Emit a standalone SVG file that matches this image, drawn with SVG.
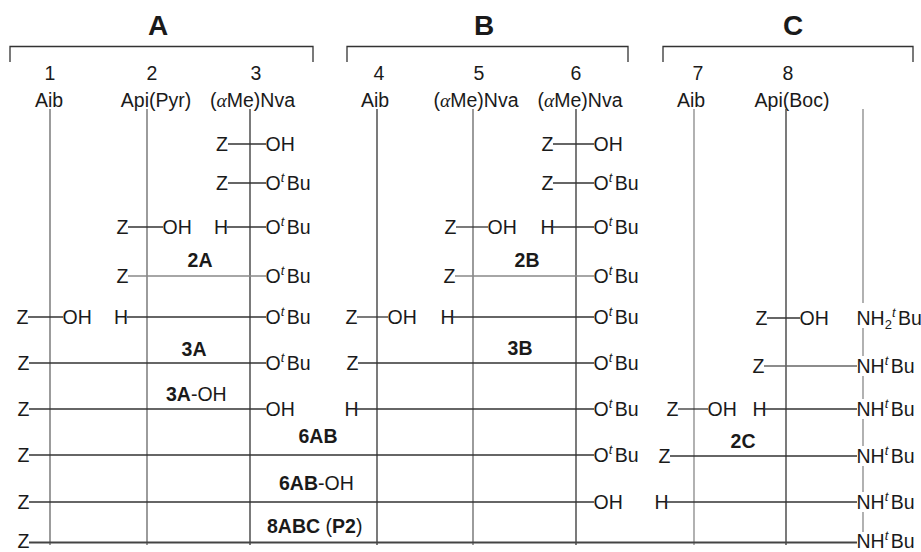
<svg xmlns="http://www.w3.org/2000/svg" width="921" height="552" viewBox="0 0 921 552">
<style>
.t{font-family:"Liberation Sans",Arial,Helvetica,sans-serif;font-size:19.5px;fill:#1a1a1a}
.e{text-anchor:end}
.m{text-anchor:middle}
.b{font-weight:bold}
.h{font-family:"Liberation Sans",Arial,sans-serif;font-size:28px;font-weight:bold;fill:#1a1a1a;text-anchor:middle}
.sup{font-size:13px;font-style:italic}
.sub{font-size:13px}
.al{font-family:"Liberation Serif","Times New Roman",serif;font-style:italic}
.ln{stroke:#333;stroke-width:1.3;fill:none}
.lg{stroke:#888;stroke-width:1.3;fill:none}
.lm{stroke:#666;stroke-width:1.3;fill:none}
</style>
<g id="brackets">
<path class="ln" d="M10,62V46.5H313V62"/>
<path class="ln" d="M347,62V46.5H628V62"/>
<path class="ln" d="M663,62V46.5H913V62"/>
<text class="h" x="158" y="35">A</text>
<text class="h" x="484" y="35">B</text>
<text class="h" x="793" y="35">C</text>
</g>
<g id="column-heads">
<text class="t m" x="50" y="80">1</text>
<text class="t m" x="152" y="80">2</text>
<text class="t m" x="256" y="80">3</text>
<text class="t m" x="379" y="80">4</text>
<text class="t m" x="479" y="80">5</text>
<text class="t m" x="576" y="80">6</text>
<text class="t m" x="698" y="80">7</text>
<text class="t m" x="788" y="80">8</text>
<text class="t m" x="49" y="107">Aib</text>
<text class="t m" x="156" y="107">Api(Pyr)</text>
<text class="t m" x="252.5" y="107">(<tspan class="al">α</tspan>Me)Nva</text>
<text class="t m" x="375" y="107">Aib</text>
<text class="t m" x="476" y="107">(<tspan class="al">α</tspan>Me)Nva</text>
<text class="t m" x="580" y="107">(<tspan class="al">α</tspan>Me)Nva</text>
<text class="t m" x="691" y="107">Aib</text>
<text class="t m" x="792" y="107">Api(Boc)</text>
</g>
<g id="connectors">
<line class="lm" x1="50" y1="109" x2="50" y2="545"/>
<line class="lm" x1="147" y1="109" x2="147" y2="545"/>
<line class="ln" x1="250" y1="109" x2="250" y2="545"/>
<line class="ln" x1="377" y1="109" x2="377" y2="545"/>
<line class="lm" x1="473" y1="109" x2="473" y2="545"/>
<line class="ln" x1="576" y1="109" x2="576" y2="545"/>
<line class="lg" x1="694" y1="109" x2="694" y2="545"/>
<line class="ln" x1="786" y1="109" x2="786" y2="545"/>
<line class="lg" x1="863" y1="109" x2="863" y2="303"/>
<line class="lg" x1="863" y1="328" x2="863" y2="356"/>
<line class="lg" x1="863" y1="376" x2="863" y2="399"/>
<line class="lg" x1="863" y1="419" x2="863" y2="446"/>
<line class="lg" x1="863" y1="466" x2="863" y2="492"/>
<line class="lg" x1="863" y1="512" x2="863" y2="532"/>
<!-- A -->
<line class="ln" x1="228" y1="144" x2="266" y2="144"/>
<line class="ln" x1="228" y1="183" x2="266" y2="183"/>
<line class="ln" x1="128" y1="227" x2="163" y2="227"/>
<line class="ln" x1="227" y1="227" x2="266" y2="227"/>
<line class="lg" x1="128" y1="276" x2="266" y2="276"/>
<line class="ln" x1="28" y1="317" x2="63" y2="317"/>
<line class="ln" x1="127" y1="317" x2="266" y2="317"/>
<line class="ln" x1="29" y1="363" x2="266" y2="363"/>
<line class="ln" x1="29" y1="409" x2="266" y2="409"/>
<line class="ln" x1="29" y1="455" x2="594" y2="455"/>
<line class="ln" x1="29" y1="502" x2="594" y2="502"/>
<line class="ln" x1="29" y1="542.5" x2="857" y2="542.5" style="stroke-width:1.8;stroke:#444"/>
<!-- B -->
<line class="ln" x1="553" y1="144" x2="594" y2="144"/>
<line class="ln" x1="553" y1="183" x2="594" y2="183"/>
<line class="ln" x1="456" y1="227" x2="488" y2="227"/>
<line class="ln" x1="553" y1="227" x2="594" y2="227"/>
<line class="lg" x1="455" y1="276" x2="594" y2="276"/>
<line class="ln" x1="357" y1="317" x2="388" y2="317"/>
<line class="ln" x1="453" y1="317" x2="594" y2="317"/>
<line class="ln" x1="358" y1="363" x2="594" y2="363"/>
<line class="ln" x1="357" y1="409" x2="594" y2="409"/>
<!-- C -->
<line class="ln" x1="767" y1="318" x2="800" y2="318"/>
<line class="lm" x1="764" y1="366" x2="857" y2="366"/>
<line class="ln" x1="678" y1="409" x2="708" y2="409"/>
<line class="ln" x1="765" y1="409" x2="857" y2="409"/>
<line class="ln" x1="670" y1="456" x2="857" y2="456"/>
<line class="ln" x1="667" y1="502" x2="857" y2="502"/>
</g>
<g id="block-A">
<text class="t e" x="228" y="151">Z</text>
<text class="t" x="265.5" y="151">OH</text>
<text class="t e" x="228" y="190">Z</text>
<text class="t" x="265.5" y="190">O<tspan class="sup" dy="-8">t</tspan><tspan dx="2.5" dy="8">Bu</tspan></text>
<text class="t e" x="128.5" y="234">Z</text>
<text class="t" x="162.5" y="234">OH</text>
<text class="t e" x="228" y="234">H</text>
<text class="t" x="265.5" y="234">O<tspan class="sup" dy="-8">t</tspan><tspan dx="2.5" dy="8">Bu</tspan></text>
<text class="t b m" x="200" y="267">2A</text>
<text class="t e" x="128.5" y="283">Z</text>
<text class="t" x="265.5" y="283">O<tspan class="sup" dy="-8">t</tspan><tspan dx="2.5" dy="8">Bu</tspan></text>
<text class="t e" x="28.5" y="324">Z</text>
<text class="t" x="62.5" y="324">OH</text>
<text class="t e" x="128" y="324">H</text>
<text class="t" x="265.5" y="324">O<tspan class="sup" dy="-8">t</tspan><tspan dx="2.5" dy="8">Bu</tspan></text>
<text class="t b m" x="194" y="356">3A</text>
<text class="t e" x="29.5" y="370">Z</text>
<text class="t" x="265.5" y="370">O<tspan class="sup" dy="-8">t</tspan><tspan dx="2.5" dy="8">Bu</tspan></text>
<text class="t" x="166" y="401"><tspan class="b">3A</tspan>-OH</text>
<text class="t e" x="29.5" y="416">Z</text>
<text class="t" x="265.5" y="416">OH</text>
</g>
<g id="block-AB">
<text class="t b m" x="318" y="443">6AB</text>
<text class="t e" x="29.5" y="462">Z</text>
<text class="t" x="593.5" y="462">O<tspan class="sup" dy="-8">t</tspan><tspan dx="2.5" dy="8">Bu</tspan></text>
<text class="t" x="279" y="490"><tspan class="b">6AB</tspan>-OH</text>
<text class="t e" x="29.5" y="509">Z</text>
<text class="t" x="593.5" y="509">OH</text>
<text class="t" x="267" y="533"><tspan class="b">8ABC</tspan> (<tspan class="b">P2</tspan>)</text>
<text class="t e" x="29.5" y="547.5">Z</text>
</g>
<g id="block-B">
<text class="t e" x="553.5" y="151">Z</text>
<text class="t" x="593.5" y="151">OH</text>
<text class="t e" x="553.5" y="190">Z</text>
<text class="t" x="593.5" y="190">O<tspan class="sup" dy="-8">t</tspan><tspan dx="2.5" dy="8">Bu</tspan></text>
<text class="t e" x="456.5" y="234">Z</text>
<text class="t" x="487.5" y="234">OH</text>
<text class="t e" x="554.5" y="234">H</text>
<text class="t" x="593.5" y="234">O<tspan class="sup" dy="-8">t</tspan><tspan dx="2.5" dy="8">Bu</tspan></text>
<text class="t b m" x="527" y="267">2B</text>
<text class="t e" x="455.5" y="283">Z</text>
<text class="t" x="593.5" y="283">O<tspan class="sup" dy="-8">t</tspan><tspan dx="2.5" dy="8">Bu</tspan></text>
<text class="t e" x="357.5" y="324">Z</text>
<text class="t" x="387.5" y="324">OH</text>
<text class="t e" x="454.5" y="324">H</text>
<text class="t" x="593.5" y="324">O<tspan class="sup" dy="-8">t</tspan><tspan dx="2.5" dy="8">Bu</tspan></text>
<text class="t b m" x="520" y="355">3B</text>
<text class="t e" x="358.5" y="370">Z</text>
<text class="t" x="593.5" y="370">O<tspan class="sup" dy="-8">t</tspan><tspan dx="2.5" dy="8">Bu</tspan></text>
<text class="t e" x="358.5" y="416">H</text>
<text class="t" x="593.5" y="416">O<tspan class="sup" dy="-8">t</tspan><tspan dx="2.5" dy="8">Bu</tspan></text>
</g>
<g id="block-C">
<text class="t e" x="767.5" y="325">Z</text>
<text class="t" x="799.5" y="325">OH</text>
<text class="t" x="856.5" y="325">NH<tspan class="sub" dy="4">2</tspan><tspan class="sup" dy="-12">t</tspan><tspan dx="2.5" dy="8">Bu</tspan></text>
<text class="t e" x="764.5" y="373">Z</text>
<text class="t" x="856.5" y="373">NH<tspan class="sup" dy="-8">t</tspan><tspan dx="2.5" dy="8">Bu</tspan></text>
<text class="t e" x="678.5" y="416">Z</text>
<text class="t" x="707.5" y="416">OH</text>
<text class="t e" x="766.5" y="416">H</text>
<text class="t" x="856.5" y="416">NH<tspan class="sup" dy="-8">t</tspan><tspan dx="2.5" dy="8">Bu</tspan></text>
<text class="t b m" x="743" y="448">2C</text>
<text class="t e" x="670.5" y="463">Z</text>
<text class="t" x="856.5" y="463">NH<tspan class="sup" dy="-8">t</tspan><tspan dx="2.5" dy="8">Bu</tspan></text>
<text class="t e" x="668.5" y="509">H</text>
<text class="t" x="856.5" y="509">NH<tspan class="sup" dy="-8">t</tspan><tspan dx="2.5" dy="8">Bu</tspan></text>
<text class="t" x="856.5" y="547.5">NH<tspan class="sup" dy="-8">t</tspan><tspan dx="2.5" dy="8">Bu</tspan></text>
</g>
</svg>
